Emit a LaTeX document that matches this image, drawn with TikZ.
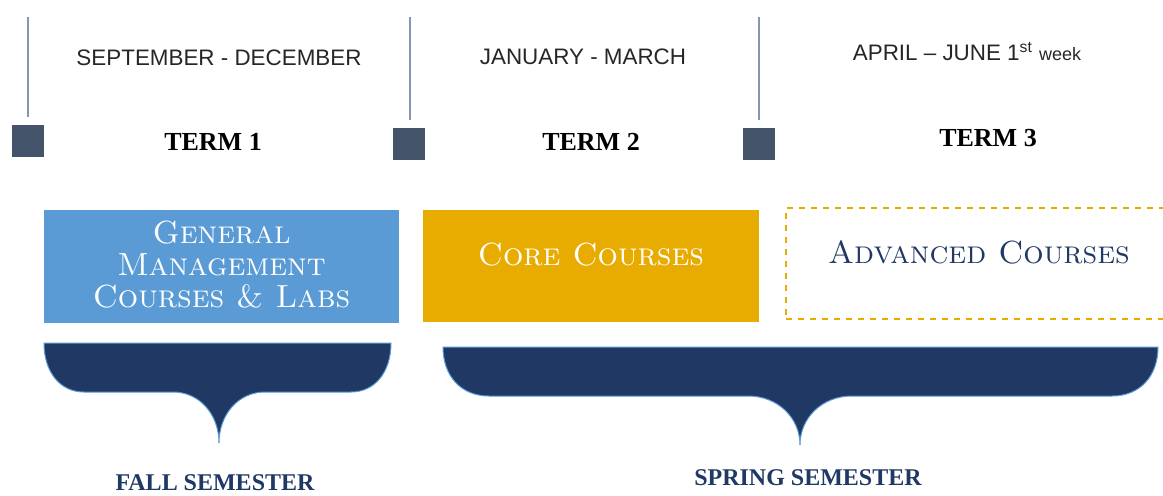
\documentclass[tikz,border=0pt]{standalone}
\usepackage{fontspec}
\newfontfamily\monthfont{Liberation Sans}
\newfontfamily\termfont{Liberation Serif}
\definecolor{markgray}{HTML}{44546A}
\definecolor{linegray}{HTML}{8497B0}
\definecolor{genblue}{HTML}{5B9BD5}
\definecolor{coregold}{HTML}{E8AB00}
\definecolor{navy}{HTML}{203864}
\definecolor{textnavy}{HTML}{1F3864}

\tikzset{
  marker/.style={fill=markgray, minimum size=16pt, inner sep=0pt},
  month/.style={font=\monthfont\fontsize{11.2}{13}\selectfont, text=black!85},
  term/.style={font=\termfont\bfseries\fontsize{13}{15}\selectfont},
  course/.style={font=\fontsize{16}{16}\selectfont\scshape, align=center, inner sep=0pt},
  semester/.style={font=\termfont\bfseries\fontsize{12}{14}\selectfont, text=textnavy},
  brace/.style={fill=navy, draw=genblue, line width=0.5pt}
}

\begin{document}
\begin{tikzpicture}[x=0.5pt,y=-0.5pt]
  \useasboundingbox (0,0) rectangle (1163,495);
  \clip (0,0) rectangle (1163,495);

  % term markers
  \node [marker] (mk1) at (28,141) {};
  \node [marker] (mk2) at (409,144) {};
  \node [marker] (mk3) at (759,144) {};
  \coordinate (top1) at (28,17);
  \coordinate (top2) at (410,17);
  \coordinate (top3) at (759,17);
  \draw [linegray, line width=0.8pt] (top1) -- ([yshift=4pt]mk1.north);
  \draw [linegray, line width=0.8pt] (top2) -- ([yshift=4pt]mk2.north -| top2);
  \draw [linegray, line width=0.8pt] (top3) -- ([yshift=4pt]mk3.north);

  % months and terms
  \node [month] (m1) at (219,58) {SEPTEMBER - DECEMBER};
  \node [month] (m2) at (583,57) {JANUARY - MARCH};
  \node [month] (m3) at (967,52) {APRIL – JUNE 1\textsuperscript{st} {\fontsize{9}{11}\selectfont week}};
  \node [term] (t1) at (213,142) {TERM 1};
  \node [term] (t2) at (591,142) {TERM 2};
  \node [term] (t3) at (988,138) {TERM 3};

  % course boxes
  \node [fill=genblue, minimum width=177.5pt, minimum height=56.5pt] (gen) at (221.5,266.5) {};
  \node [course, text=white] (gentext) at (221.5,265) {General\\Management\\Courses \& Labs};
  \node [fill=coregold, minimum width=168pt, minimum height=56pt] (core) at (591,266) {};
  \node [course, text=white] (coretext) at ([yshift=5.5pt]core.center) {Core Courses};
  \node [draw=coregold, dashed, line width=0.8pt, minimum width=193pt, minimum height=55.5pt] (adv) at (979,263.5) {};
  \node [course, text=textnavy] (advtext) at ([yshift=5.5pt]adv.center) {Advanced Courses};

  % semester braces
  \draw [brace] (44,343) -- (391,343) .. controls (391,372) and (375,392) .. (351,392)
    -- (265,392) .. controls (238,392) and (219,415) .. (219,443)
    .. controls (219,415) and (200,392) .. (173,392)
    -- (84,392) .. controls (60,392) and (44,372) .. (44,343) -- cycle;
  \draw [brace] (443,347) -- (1158,347) .. controls (1158,376) and (1140,396) .. (1112,396)
    -- (852,396) .. controls (822,396) and (800,418) .. (800,445)
    .. controls (800,418) and (778,396) .. (748,396)
    -- (489,396) .. controls (461,396) and (443,376) .. (443,347) -- cycle;
  \node [semester] (fall) at (215,483) {FALL SEMESTER};
  \node [semester] (spring) at (808,478) {SPRING SEMESTER};
\end{tikzpicture}
\end{document}
